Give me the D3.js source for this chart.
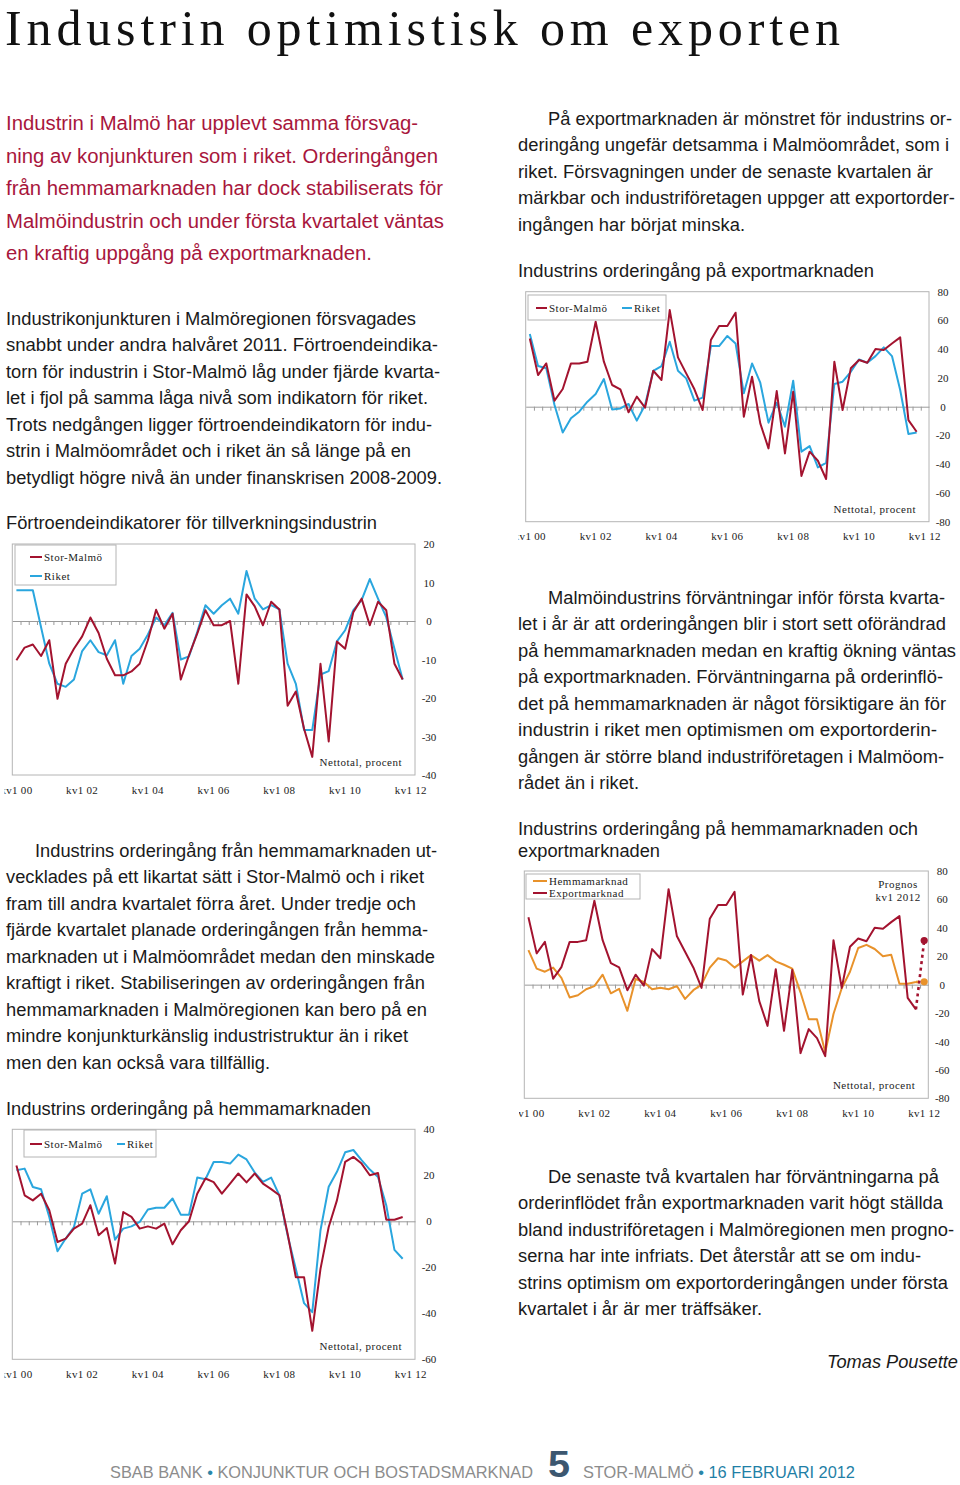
<!DOCTYPE html>
<html><head><meta charset="utf-8">
<script src="https://cdn.jsdelivr.net/npm/d3@7"></script>
<style>body{margin:0;background:#fff}</style>
</head><body><script>
// ---------------- DATA ----------------
const quarters = d3.range(2000, 2013).flatMap(y => [1,2,3,4].map(q => y + "Q" + q)).slice(0, 49); // kv1 2000 .. kv1 2012
const tickCats = ["2000Q1","2002Q1","2004Q1","2006Q1","2008Q1","2010Q1","2012Q1"];
const tickLabels = ["kv1 00","kv1 02","kv1 04","kv1 06","kv1 08","kv1 10","kv1 12"];

// Förtroendeindikatorer för tillverkningsindustrin
const confMalmo = [-10.2,-6.9,-6.1,-9.1,-5.0,-20.2,-11.1,-7.2,-4.0,0.9,-3.1,-9.8,-14.1,-14.1,-13.1,-11.1,-5.0,2.9,-2.0,1.9,-15.2,-8.9,-3.3,2.8,
  -1.1,-1.1,0,-16.3,6.9,3.8,-1.1,5,3,-22,-18.3,-28,-35.3,-11.1,-31.3,-5.3,-7.2,2.3,5.8,-1.1,5,2.8,-11.1,-15.2];
const confRiket = [8,8,8,-1.6,-11.1,-16.3,-17.1,-15.2,-7.8,-5.0,-8.1,-8.9,-5.0,-16.3,-9.1,-7.2,-3.5,0.9,-1.1,2.1,-10.0,-9.2,-2.9,4.1,
  1.9,4.1,5.8,1.9,13,5.8,3,4.1,3,-11.1,-16.3,-28.3,-28.3,-13.9,-13,-5.3,-2.4,2.8,5.4,10.9,5.8,1,-7.2,-15.2];
const confTicks = [20,10,0,-10,-20,-30,-40];

// Industrins orderingång på hemmamarknaden
const hemmaMalmo = [24.3,11.3,9.1,12,4.8,-9,-7.5,-3.2,-1,7,-6.1,-2.9,-18.4,4,1.9,-3.2,-2.2,-3.2,-1,-10,-3.9,0,12,18.6,17,
  12,16.4,20.8,16.9,20.8,16.4,14,11.3,-5.4,-24.3,-24.3,-47.6,-20.7,-2.5,9.1,25.8,28,25.1,20,21,0.7,0.7,1.9];
const hemmaRiket = [22.2,22.9,14.9,13.9,1.9,-13,-7.5,-2.5,12,13.9,3.3,10.9,-8,-3.2,-2.2,-0.3,5.1,5.9,5.9,9.9,2.9,2.9,19,18.3,25.8,
  25.8,25.1,29,26.9,21.2,17.1,19,11.3,-6.1,-20.7,-35.6,-39.5,-3.9,15,21.5,30,31,26.6,22.5,19.3,7,-12.4,-16.3];
const hemmaTicks = [40,20,0,-20,-40,-60];

// Industrins orderingång på exportmarknaden
const exportMalmo = [47.5,22,30.1,4.2,12.3,30.1,30.1,31.3,59.1,31.3,15.1,12.1,-3.9,7,-0.7,25,18.6,67.2,34.3,23.2,12.1,-2.3,46.4,56.1,56.1,65.4,
  -7,20.9,-11.6,-29,10.9,-32.5,10.4,-48.2,-31.3,-37.6,-50.3,31.3,-2.3,26.7,32.5,30.6,40.1,39.4,44,48.2,-9.3,-17.4];
const exportRiket = [50.6,28.3,26.7,1.2,-17.9,-8.1,-3.5,3.5,8.8,19.2,-1.9,-1.2,1.9,-9.7,1.2,25,28.3,45.2,25,19.7,4.2,6.3,42.2,42.2,49.2,44,
  9.3,30.1,16.7,-11.1,2.8,-13.9,18.1,-31.3,-27.4,-42.2,-39,15.8,17.4,24.3,32.9,30.6,35.2,41.3,35.2,11.6,-19,-17.9];
const exportTicks = [80,60,40,20,0,-20,-40,-60,-80];

// Prognos kv1 2012 (Stor-Malmö)
const prognosHemma = 2;
const prognosExport = 31;

// ---------------- STYLE ----------------
const RED = "#a3132f", BLUE = "#2aa6de", ORANGE = "#e8922b", CRIMSON = "#a8163c";
const SERIF = "'Liberation Serif','Times New Roman',serif";
const SANS = "'Liberation Sans',Arial,Helvetica,sans-serif";

const W = 960, H = 1485;
const svg = d3.select("body").append("svg").attr("width", W).attr("height", H).style("display","block");
svg.append("rect").attr("width", W).attr("height", H).attr("fill", "#fff");
const defs = svg.append("defs");

// ---------------- TEXT ----------------
function textLine(str, x, y, x2, size, fill, opts = {}) {
  const t = svg.append("text").attr("x", x).attr("y", y).text(str)
    .attr("font-family", opts.family || SANS).attr("font-size", size).attr("fill", fill);
  if (x2) t.attr("textLength", x2 - x).attr("lengthAdjust", opts.adjust || "spacingAndGlyphs");
  if (opts.italic) t.attr("font-style", "italic");
  if (opts.weight) t.attr("font-weight", opts.weight);
  return t;
}
function block(lines, y0, step, size, fill) {
  lines.forEach((l, i) => textLine(l[0], l[1], y0 + i * step, l[2], size, fill));
}

// Title
textLine("Industrin optimistisk om exporten", 5, 44.5, 840, 50, "#111", {family: SERIF, adjust: "spacing"});

// Intro (red)
block([
  ["Industrin i Malmö har upplevt samma försvag-", 6, 418],
  ["ning av konjunkturen som i riket. Orderingången", 6, 438],
  ["från hemmamarknaden har dock stabiliserats för", 6, 443],
  ["Malmöindustrin och under första kvartalet väntas", 6, 444],
  ["en kraftig uppgång på exportmarknaden.", 6, 372]
], 130, 32.5, 20, CRIMSON);

const BODY = 17.5, STEP = 26.5, INK = "#1a1a1a";
block([
  ["Industrikonjunkturen i Malmöregionen försvagades", 6, 416],
  ["snabbt under andra halvåret 2011. Förtroendeindika-", 6, 438],
  ["torn för industrin i Stor-Malmö låg under fjärde kvarta-", 6, 440],
  ["let i fjol på samma låga nivå som indikatorn för riket.", 6, 428],
  ["Trots nedgången ligger förtroendeindikatorn för indu-", 6, 432],
  ["strin i Malmöområdet och i riket än så länge på en", 6, 411],
  ["betydligt högre nivå än under finanskrisen 2008-2009.", 6, 442]
], 324.5, STEP, BODY, INK);

textLine("Förtroendeindikatorer för tillverkningsindustrin", 6, 528.5, 377, BODY, INK);

block([
  ["Industrins orderingång från hemmamarknaden ut-", 35, 437],
  ["vecklades på ett likartat sätt i Stor-Malmö och i riket", 6, 424],
  ["fram till andra kvartalet förra året. Under tredje och", 6, 416],
  ["fjärde kvartalet planade orderingången från hemma-", 6, 428],
  ["marknaden ut i Malmöområdet medan den minskade", 6, 435],
  ["kraftigt i riket. Stabiliseringen av orderingången från", 6, 425],
  ["hemmamarknaden i Malmöregionen kan bero på en", 6, 427],
  ["mindre konjunkturkänslig industristruktur än i riket", 6, 408],
  ["men den kan också vara tillfällig.", 6, 270]
], 856.5, STEP, BODY, INK);

textLine("Industrins orderingång på hemmamarknaden", 6, 1114.5, 371, BODY, INK);

block([
  ["På exportmarknaden är mönstret för industrins or-", 548, 952],
  ["deringång ungefär detsamma i Malmöområdet, som i", 518, 949],
  ["riket. Försvagningen under de senaste kvartalen är", 518, 933],
  ["märkbar och industriföretagen uppger att exportorder-", 518, 955],
  ["ingången har börjat minska.", 518, 745]
], 124.5, STEP, BODY, INK);

textLine("Industrins orderingång på exportmarknaden", 518, 276.5, 874, BODY, INK);

block([
  ["Malmöindustrins förväntningar inför första kvarta-", 548, 945],
  ["let i år är att orderingången blir i stort sett oförändrad", 518, 946],
  ["på hemmamarknaden medan en kraftig ökning väntas", 518, 956],
  ["på exportmarknaden. Förväntningarna på orderinflö-", 518, 943],
  ["det på hemmamarknaden är något försiktigare än för", 518, 946],
  ["industrin i riket men optimismen om exportorderin-", 518, 937],
  ["gången är större bland industriföretagen i Malmöom-", 518, 944],
  ["rådet än i riket.", 518, 639]
], 603.5, STEP, BODY, INK);

textLine("Industrins orderingång på hemmamarknaden och", 518, 834.5, 918, BODY, INK);
textLine("exportmarknaden", 518, 856.5, 660, BODY, INK);

block([
  ["De senaste två kvartalen har förväntningarna på", 548, 939],
  ["orderinflödet från exportmarknaden varit högt ställda", 518, 943],
  ["bland industriföretagen i Malmöregionen men progno-", 518, 954],
  ["serna har inte infriats. Det återstår att se om indu-", 518, 921],
  ["strins optimism om exportorderingången under första", 518, 948],
  ["kvartalet i år är mer träffsäker.", 518, 762]
], 1182.5, STEP, BODY, INK);

textLine("Tomas Pousette", 827, 1368, 958, BODY, INK, {italic: true});

// Footer
const FOOT = "'Liberation Sans Narrow','Liberation Sans',Arial,sans-serif";
const f1 = svg.append("text").attr("x", 110).attr("y", 1478).attr("font-family", FOOT).attr("font-size", 16.5)
  .attr("fill", "#8c8c8c").attr("textLength", 423).attr("lengthAdjust", "spacingAndGlyphs");
f1.append("tspan").text("SBAB BANK ");
f1.append("tspan").attr("fill", "#2a86a8").text("•");
f1.append("tspan").text(" KONJUNKTUR OCH BOSTADSMARKNAD");
svg.append("text").attr("x", 548).attr("y", 1477).attr("font-family", SANS).attr("font-weight", "bold")
  .attr("font-size", 36).attr("fill", "#3c5770").attr("textLength", 22).attr("lengthAdjust", "spacingAndGlyphs").text("5");
const f2 = svg.append("text").attr("x", 583).attr("y", 1478).attr("font-family", FOOT).attr("font-size", 16.5)
  .attr("fill", "#8c8c8c").attr("textLength", 272).attr("lengthAdjust", "spacingAndGlyphs");
f2.append("tspan").text("STOR-MALMÖ ");
f2.append("tspan").attr("fill", "#2a86a8").text("•");
f2.append("tspan").attr("fill", "#1f7fa6").text(" 16 FEBRUARI 2012");

// ---------------- CHARTS ----------------
function chart(cfg) {
  const clipId = cfg.id + "-clip";
  defs.append("clipPath").attr("id", clipId).append("rect")
    .attr("x", cfg.clipX).attr("y", cfg.top - 20).attr("width", cfg.right + 40 - cfg.clipX).attr("height", cfg.bottom - cfg.top + 50);
  const g = svg.append("g").attr("clip-path", `url(#${clipId})`);

  const x = d3.scaleBand().domain(quarters).range([cfg.left, cfg.right]);
  const cx = q => x(q) + x.bandwidth() / 2;
  const xi = d3.scaleLinear().domain([0, quarters.length]).range([cfg.left, cfg.right]);
  const y = d3.scaleLinear().domain(cfg.domain).range([cfg.bottom, cfg.top]);

  // plot frame
  g.append("rect").attr("x", cfg.left).attr("y", cfg.top).attr("width", cfg.right - cfg.left)
    .attr("height", cfg.bottom - cfg.top).attr("fill", "none").attr("stroke", "#b4b4b4").attr("stroke-width", 1);

  // zero line with quarter ticks
  const z = g.append("g").attr("transform", `translate(0,${y(0)})`)
    .call(d3.axisBottom(xi).tickValues(d3.range(1, quarters.length)).tickSize(4).tickSizeOuter(0).tickFormat(""));
  z.selectAll("path,line").attr("stroke", "#9a9a9a");

  // y labels on the right
  const ya = g.append("g").attr("transform", `translate(${cfg.right},0)`)
    .call(d3.axisRight(y).tickValues(cfg.ticks).tickSize(0).tickFormat(d => String(d)));
  ya.select(".domain").remove();
  ya.selectAll("text").attr("x", 14).attr("text-anchor", "middle").attr("font-family", SERIF)
    .attr("font-size", 11).attr("fill", "#222");

  // x labels
  const xa = g.append("g").attr("transform", `translate(0,${cfg.bottom})`)
    .call(d3.axisBottom(x).tickValues(tickCats).tickSize(0).tickFormat((d, i) => tickLabels[i]));
  xa.select(".domain").remove();
  xa.selectAll("text").attr("y", 15).attr("dy", "0.32em").attr("font-family", SERIF)
    .attr("font-size", 11).attr("letter-spacing", 0.3).attr("fill", "#222");

  // series
  const line = d3.line().x((d, i) => cx(quarters[i])).y(d => y(d));
  cfg.series.forEach(s => {
    g.append("path").datum(s.values).attr("d", line).attr("fill", "none")
      .attr("stroke", s.color).attr("stroke-width", 2).attr("stroke-linejoin", "round");
  });

  // note
  g.append("text").attr("x", cfg.right - 13).attr("y", cfg.bottom - 9).attr("text-anchor", "end")
    .attr("font-family", SERIF).attr("font-size", 11).attr("letter-spacing", 0.5).attr("fill", "#222").text("Nettotal, procent");

  // legend
  const L = cfg.legend;
  g.append("rect").attr("x", L.x).attr("y", L.y).attr("width", L.w).attr("height", L.h)
    .attr("fill", "#fff").attr("stroke", "#b4b4b4");
  L.items.forEach(it => {
    g.append("line").attr("x1", it.lx).attr("x2", it.lx + it.lw).attr("y1", it.y).attr("y2", it.y)
      .attr("stroke", it.color).attr("stroke-width", 2);
    g.append("text").attr("x", it.lx + it.lw + 2).attr("y", it.y).attr("dy", "0.35em")
      .attr("font-family", SERIF).attr("font-size", 11).attr("letter-spacing", 0.5).attr("fill", "#222").text(it.label);
  });
  return {g, x, cx, y};
}

// Chart 1
chart({
  id: "c1", left: 12.3, right: 415, top: 544, bottom: 775, clipX: 4.5,
  domain: [-40, 20], ticks: confTicks,
  series: [{values: confRiket, color: BLUE}, {values: confMalmo, color: RED}],
  legend: {x: 15, y: 545, w: 101, h: 40, items: [
    {label: "Stor-Malmö", color: RED, lx: 30, lw: 12, y: 557},
    {label: "Riket", color: BLUE, lx: 30, lw: 12, y: 576}]}
});

// Chart 2
chart({
  id: "c2", left: 12.3, right: 415, top: 1129.3, bottom: 1359.3, clipX: 4.5,
  domain: [-60, 40], ticks: hemmaTicks,
  series: [{values: hemmaRiket, color: BLUE}, {values: hemmaMalmo, color: RED}],
  legend: {x: 24, y: 1130, w: 132, h: 27, items: [
    {label: "Stor-Malmö", color: RED, lx: 30, lw: 12, y: 1144},
    {label: "Riket", color: BLUE, lx: 117, lw: 8, y: 1144}]}
});

// Chart 3
chart({
  id: "c3", left: 525.7, right: 929, top: 291.7, bottom: 521.7, clipX: 518.5,
  domain: [-80, 80], ticks: exportTicks,
  series: [{values: exportRiket, color: BLUE}, {values: exportMalmo, color: RED}],
  legend: {x: 528, y: 295, w: 138, h: 25, items: [
    {label: "Stor-Malmö", color: RED, lx: 536, lw: 11, y: 308},
    {label: "Riket", color: BLUE, lx: 622, lw: 10, y: 308}]}
});

// Chart 4
const c4 = chart({
  id: "c4", left: 524.3, right: 928.3, top: 871, bottom: 1098.3, clipX: 519,
  domain: [-80, 80], ticks: exportTicks,
  series: [{values: hemmaMalmo, color: ORANGE}, {values: exportMalmo, color: RED}],
  legend: {x: 526, y: 874, w: 114, h: 25, items: [
    {label: "Hemmamarknad", color: ORANGE, lx: 533, lw: 14, y: 881},
    {label: "Exportmarknad", color: RED, lx: 533, lw: 14, y: 893}]}
});
// forecast
[[hemmaMalmo, prognosHemma, ORANGE], [exportMalmo, prognosExport, RED]].forEach(([s, p, col]) => {
  const q0 = quarters[47], q1 = quarters[48];
  c4.g.append("line").attr("x1", c4.cx(q0)).attr("y1", c4.y(s[47])).attr("x2", c4.cx(q1)).attr("y2", c4.y(p))
    .attr("stroke", col).attr("stroke-width", 2.6).attr("stroke-dasharray", "3,3.5");
  c4.g.append("circle").attr("cx", c4.cx(q1)).attr("cy", c4.y(p)).attr("r", 3.6).attr("fill", col);
});
c4.g.append("text").attr("x", 898).attr("y", 888).attr("text-anchor", "middle").attr("font-family", SERIF)
  .attr("font-size", 11).attr("letter-spacing", 0.5).attr("fill", "#222").text("Prognos");
c4.g.append("text").attr("x", 898).attr("y", 901).attr("text-anchor", "middle").attr("font-family", SERIF)
  .attr("font-size", 11).attr("letter-spacing", 0.5).attr("fill", "#222").text("kv1 2012");
</script></body></html>
